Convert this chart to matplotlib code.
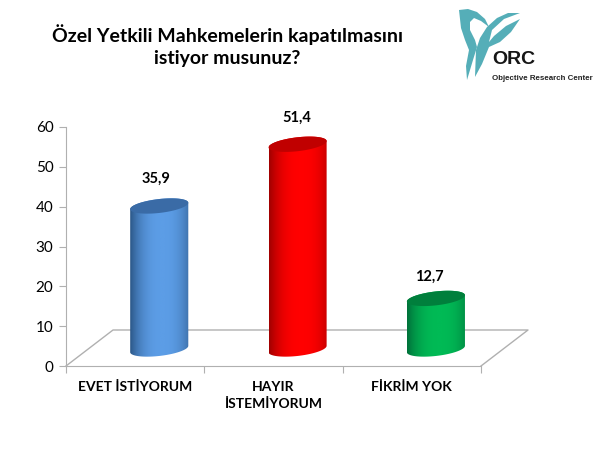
import numpy as np
import matplotlib.pyplot as plt
from matplotlib.colors import LinearSegmentedColormap
from matplotlib.patches import PathPatch, Polygon
from matplotlib.path import Path

plt.rcParams["font.family"] = ["Lato", "DejaVu Sans"]

categories = ["EVET İSTİYORUM", "HAYIR\nİSTEMİYORUM", "FİKRİM YOK"]
values = [35.9, 51.4, 12.7]
value_labels = ["35,9", "51,4", "12,7"]
y_ticks = [0, 10, 20, 30, 40, 50, 60]
title = "Özel Yetkili Mahkemelerin kapatılmasını\nistiyor musunuz?"

edge_colors = ["#2b5687", "#a00000", "#00703a"]
mid_colors = ["#5c9de6", "#ff0000", "#00ba55"]
top_colors = ["#3a6ba6", "#c00000", "#007f3c"]

W, H = 600, 451
fig = plt.figure(figsize=(W / 100, H / 100), dpi=100)
ax = fig.add_axes([66 / W, 1 - 366 / H, 415 / W, 239 / H])

# pseudo 3d settings, in data units
depth_x = 47 / 138.3
depth_y = 36 / 3.983
bar_shift = 0.174
base = 4.27
rx = 0.21
ry = 1.75
tilt = 0.8


def ellipse(cx, cy, start, stop):
    t = np.linspace(start, stop, 60)
    return np.column_stack([cx + rx * np.cos(t), cy + ry * np.sin(t) + tilt * np.cos(t)])


ax.set_xlim(-0.5, 2.5)
ax.set_ylim(0, 60)

# floor of the 3d chart
floor_x = [-0.5, -0.5 + depth_x, 2.5 + depth_x, 2.5]
floor_y = [0, depth_y, depth_y, 0]
ax.plot(floor_x, floor_y, color="#b0b0b0", lw=1, clip_on=False, zorder=1)

# shading across a cylinder, flat in the middle and dark at the edges
u = np.linspace(0, 1, 256)
shade = 1 - np.abs((u - 0.55) / 0.55) ** 2.5

for i, value in enumerate(values):
    cx = i + bar_shift
    top = base + value
    cmap = LinearSegmentedColormap.from_list("cyl", [edge_colors[i], mid_colors[i]])
    body = np.vstack([ellipse(cx, top, np.pi, 0), ellipse(cx, base, 0, -np.pi)])
    patch = PathPatch(Path(np.vstack([body, body[:1]])), fc="none", ec="none", transform=ax.transData)
    ax.add_patch(patch)
    img = ax.imshow(
        shade.reshape(1, -1), cmap=cmap, vmin=0, vmax=1, aspect="auto", zorder=2,
        extent=[cx - rx, cx + rx, base - ry - tilt, top + ry + tilt],
    )
    img.set_clip_path(patch)
    ax.add_patch(Polygon(ellipse(cx, top, 0, 2 * np.pi), fc=top_colors[i], ec="none", zorder=3))

label_x = [-0.02, 1.0, 1.96]
label_off = [27, 26, 22]
for i, value in enumerate(values):
    ax.annotate(value_labels[i], (label_x[i] + 0.17, base + value), xytext=(0, label_off[i] * 0.72),
                textcoords="offset points", ha="center", va="center",
                fontsize=10.5, fontweight="bold", color="black", zorder=4)

ax.set_xlim(-0.5, 2.5)
ax.set_ylim(0, 60)
ax.set_yticks(y_ticks)
ax.set_xticks([-0.5, 0.5, 1.5, 2.5])
ax.set_xticklabels([])
ax.set_xticks([0, 1, 2], minor=True)
ax.set_xticklabels(categories, minor=True, fontsize=10, fontweight="bold", linespacing=1.5)
ax.tick_params(axis="x", which="minor", length=0, pad=11)
ax.tick_params(axis="x", which="major", length=5, color="#b0b0b0")
ax.tick_params(axis="y", length=5, color="#b0b0b0", labelsize=11, pad=4)
for name in ["top", "right"]:
    ax.spines[name].set_visible(False)
for name in ["left", "bottom"]:
    ax.spines[name].set_color("#b0b0b0")

fig.text(227 / W, 1 - 45.5 / H, title, ha="center", va="center", fontsize=14,
         fontweight="bold", linespacing=1.4)

# logo, in pixel coordinates
logo = fig.add_axes([0, 0, 1, 1], facecolor="none")
logo.set_xlim(0, W)
logo.set_ylim(H, 0)
logo.axis("off")
left_petal = [(459, 10), (468, 9), (477, 12), (485, 19), (489, 27), (481, 21), (474, 18), (470, 22), (470, 30),
              (475, 40), (477, 47), (473, 60), (467, 80), (466, 66), (469, 50), (465, 40), (461, 28)]
right_petal = [(520, 13), (508, 13), (497, 18), (487, 27), (480, 38), (476, 50), (475, 77), (482, 64), (489, 47),
               (500, 42), (511, 32), (520, 19), (506, 26), (494, 36), (489, 42), (492, 30), (504, 19)]
for shape in [left_petal, right_petal]:
    logo.add_patch(Polygon(shape, fc="#55aeb8", ec="none"))
logo.text(514, 59, "ORC", ha="center", va="center", fontsize=14, fontweight="bold",
          family=["Liberation Sans", "DejaVu Sans"], color="#161616")
logo.text(542.5, 78, "Objective Research Center", ha="center", va="center", fontsize=5.7, fontweight="bold",
          family=["Liberation Sans", "DejaVu Sans"], color="#222222")

fig.savefig("out.png", dpi=100)
